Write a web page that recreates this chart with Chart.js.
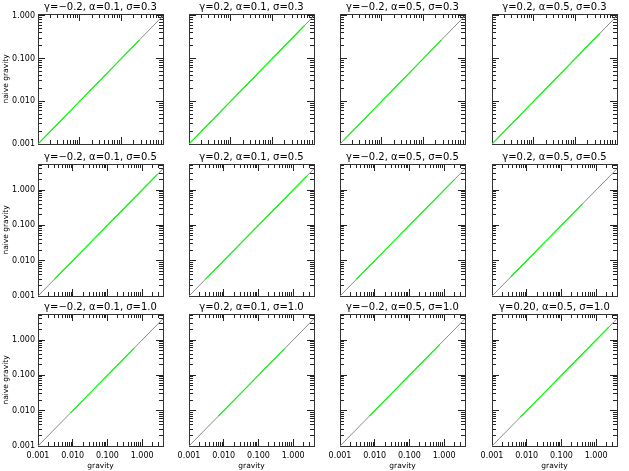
<!DOCTYPE html>
<html><head><meta charset="utf-8">
<script src="https://cdn.jsdelivr.net/npm/chart.js@4.4.0/dist/chart.umd.min.js"></script>
<style>
html,body{margin:0;padding:0;background:#fff;}
#wrap{position:relative;width:629px;height:471px;overflow:hidden;background:#fff;}
#wrap canvas{position:absolute;}
</style></head><body><div id="wrap"></div>
<script>
// ---- text ----
const panelTitles = [
  'γ=−0.2, α=0.1, σ=0.3', 'γ=0.2, α=0.1, σ=0.3', 'γ=−0.2, α=0.5, σ=0.3', 'γ=0.2, α=0.5, σ=0.3',
  'γ=−0.2, α=0.1, σ=0.5', 'γ=0.2, α=0.1, σ=0.5', 'γ=−0.2, α=0.5, σ=0.5', 'γ=0.2, α=0.5, σ=0.5',
  'γ=−0.2, α=0.1, σ=1.0', 'γ=0.2, α=0.1, σ=1.0', 'γ=−0.2, α=0.5, σ=1.0', 'γ=0.20, α=0.5, σ=1.0'
];
const xAxisTitle = 'gravity';
const yAxisTitle = 'naive gravity';

// ---- ticks ----
const majorTicks = [0.001, 0.01, 0.1, 1];
const tickLabels = ['0.001', '0.010', '0.100', '1.000'];
const minorTicks = [0.002,0.003,0.004,0.005,0.006,0.007,0.008,0.009,
                    0.02,0.03,0.04,0.05,0.06,0.07,0.08,0.09,
                    0.2,0.3,0.4,0.5,0.6,0.7,0.8,0.9,
                    2,3,4,5];

// ---- axis ranges per row ----
const axisMin = 0.001;
const xMaxByRow = [1.0, 4.0, 4.0];
const yMaxByRow = [1.1, 5.45, 5.45];

// ---- one-to-one reference line per row ----
const diagX = [[0.001, 1.0], [0.001, 4.0], [0.001, 4.0]];
const diagY = [[0.001, 1.0], [0.001, 4.0], [0.001, 4.0]];

// ---- green data segment per panel (row-major) ----
const greenX0 = [0.001, 0.001, 0.0012, 0.001,   0.003, 0.003, 0.003, 0.0035,   0.0087, 0.007, 0.0072, 0.0066];
const greenY0 = [0.001, 0.001, 0.0012, 0.001,   0.003, 0.003, 0.003, 0.0035,   0.0087, 0.007, 0.0072, 0.0066];
const greenX1 = [0.27, 0.6, 0.27, 0.38,   2.7, 2.5, 2.0, 0.4,   0.59, 0.57, 0.74, 2.3];
const greenY1 = [0.27, 0.6, 0.27, 0.38,   2.7, 2.5, 2.0, 0.4,   0.59, 0.57, 0.74, 2.3];

// ---- layout ----
const colLeft = [38, 189, 340, 492];
const plotW = 125;
const rowTop = [14, 164, 314];
const plotH = [130, 132, 132];

const FONT = 'DejaVu Sans';
const INK = '#222';

function axis(pos, isMajor, max, size, opts) {
  const horiz = (pos === 'top' || pos === 'bottom');
  const list = isMajor ? majorTicks : minorTicks;
  return {
    type: 'logarithmic', position: pos, min: axisMin, max: max,
    weight: isMajor ? 1 : 0,
    grid: { drawOnChartArea: false, drawTicks: true, tickLength: isMajor ? -7 : -4,
            tickColor: INK, tickWidth: 1, color: INK, lineWidth: 1 },
    border: { display: true, color: '#333', width: 1 },
    ticks: {
      display: !!opts.labels, autoSkip: false, maxRotation: 0, minRotation: 0,
      padding: horiz ? 12 : 10, color: '#000', font: { family: FONT, size: 8 },
      major: { enabled: false },
      callback: v => { const i = majorTicks.indexOf(v); return i >= 0 ? tickLabels[i] : ''; }
    },
    title: opts.title ? {
      display: true, text: opts.title, color: '#000',
      font: { family: FONT, size: 7.5, lineHeight: 1.2 },
      padding: horiz ? { top: 0, bottom: 0.5 } : { top: 2, bottom: 0 }
    } : { display: false },
    afterBuildTicks: s => {
      s.ticks = list.filter(v => v >= s.min * 0.9999 && v <= s.max * 1.0001).map(v => ({ value: v }));
    },
    afterFit: s => {
      if (horiz) s.height = size; else s.width = size;
      s.paddingLeft = 0; s.paddingRight = 0; s.paddingTop = 0; s.paddingBottom = 0;
    }
  };
}

const wrap = document.getElementById('wrap');
for (let r = 0; r < 3; r++) {
  for (let c = 0; c < 4; c++) {
    const k = r * 4 + c;
    const ML = c === 0 ? 38 : 16, MR = 16, MT = 14, MB = r === 2 ? 25 : 3;
    const w = ML + plotW + MR, h = MT + plotH[r] + MB;
    const cv = document.createElement('canvas');
    cv.width = w; cv.height = h;
    cv.style.left = (colLeft[c] - ML) + 'px';
    cv.style.top = (rowTop[r] - MT) + 'px';
    cv.style.width = w + 'px'; cv.style.height = h + 'px';
    wrap.appendChild(cv);

    const green = [
      { x: greenX0[k], y: greenY0[k] },
      { x: greenX1[k], y: greenY1[k] }
    ];
    const diag = diagX[r].map((x, i) => ({ x: x, y: diagY[r][i] }));
    const pad = { left: c === 0 ? 0 : ML, right: MR, top: 0, bottom: r === 2 ? 0 : MB };

    const chart = new Chart(cv, {
      type: 'line',
      data: {
        datasets: [
          { data: green, borderColor: '#00ff00', borderWidth: 1.2, pointRadius: 0, tension: 0, order: 0 },
          { data: diag, borderColor: '#8a8a8a', borderWidth: 1, pointRadius: 0, tension: 0, order: 1 }
        ]
      },
      options: {
        responsive: false, animation: false, devicePixelRatio: 1,
        layout: { autoPadding: false, padding: pad },
        plugins: {
          legend: { display: false }, tooltip: { enabled: false },
          title: { display: true, text: panelTitles[k], fullSize: false, color: '#000',
                   font: { family: FONT, size: 10, weight: 'normal', lineHeight: '14px' },
                   padding: 0 }
        },
        scales: {
          x:   axis('bottom', true,  xMaxByRow[r], r === 2 ? MB : 0, { labels: r === 2, title: r === 2 ? xAxisTitle : null }),
          xm:  axis('bottom', false, xMaxByRow[r], 0, {}),
          xt:  axis('top',    true,  xMaxByRow[r], 0, {}),
          xtm: axis('top',    false, xMaxByRow[r], 0, {}),
          y:   axis('left',   true,  yMaxByRow[r], c === 0 ? ML : 0, { labels: c === 0, title: c === 0 ? yAxisTitle : null }),
          ym:  axis('left',   false, yMaxByRow[r], 0, {}),
          yr:  axis('right',  true,  yMaxByRow[r], 0, {}),
          yrm: axis('right',  false, yMaxByRow[r], 0, {})
        }
      }
    });
    // nudge layout padding so the plot area lands on the intended rectangle
    for (let it = 0; it < 4; it++) {
      const ca = chart.chartArea;
      const dl = ML - ca.left, dr = ca.right - (w - MR), dt = MT - ca.top, db = ca.bottom - (MT + plotH[r]);
      if (Math.abs(dl) < 0.5 && Math.abs(dr) < 0.5 && Math.abs(dt) < 0.5 && Math.abs(db) < 0.5) break;
      pad.left += dl; pad.right += dr; pad.top += dt; pad.bottom += db;
      chart.options.layout.padding = { left: pad.left, right: pad.right, top: pad.top, bottom: pad.bottom };
      chart.update('none');
    }
  }
}
</script>
</body></html>
